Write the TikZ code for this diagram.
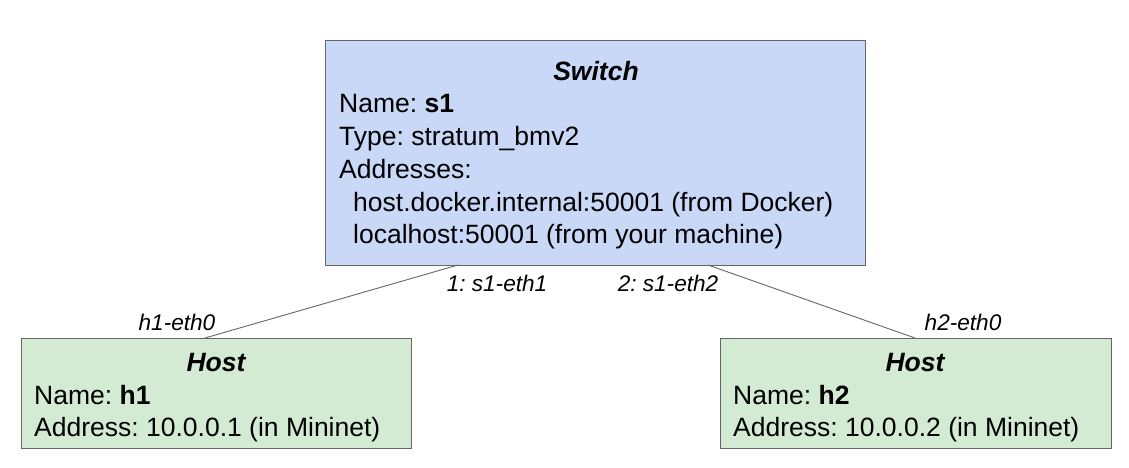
\documentclass[tikz,border=0pt]{standalone}
\usepackage{fontspec}
\setmainfont{Liberation Sans}
\frenchspacing
\definecolor{swfill}{HTML}{C9D8F7}
\definecolor{hostfill}{HTML}{D4EBD3}
\definecolor{edge}{HTML}{666666}
\tikzset{
  box/.style={draw=edge,line width=1pt,rectangle,inner sep=0pt},
  line/.style={anchor=base west,inner sep=0pt,font=\fontsize{26.5}{31}\selectfont},
  title/.style={anchor=base,inner sep=0pt,font=\fontsize{26.5}{31}\selectfont\bfseries\itshape},
  port/.style={anchor=base,inner sep=0pt,font=\fontsize{22.6}{26}\selectfont\itshape},
  link/.style={draw=edge,line width=0.9pt}
}
\begin{document}
\begin{tikzpicture}[x=1pt,y=-1pt]
  \useasboundingbox (0,0) rectangle (1129,468);
  % boxes
  \node[box,fill=swfill,minimum width=540pt,minimum height=225pt,anchor=north west] (sw) at (325,40) {};
  \node[box,fill=hostfill,minimum width=390pt,minimum height=110pt,anchor=north west] (h1) at (21,338) {};
  \node[box,fill=hostfill,minimum width=391pt,minimum height=110pt,anchor=north west] (h2) at (720,338) {};
  % switch text
  \node[title] (swtitle) at (596,81) {Switch};
  \node[line] (swname) at (339,113) {Name: \textbf{s1}};
  \node[line] (swtype) at (339,146) {Type: stratum\_bmv2};
  \node[line] (swaddr) at (339,178) {Addresses:};
  \node[line] (swdock) at (353,211) {host.docker.internal:50001 (from Docker)};
  \node[line] (swlocal) at (353,243) {localhost:50001 (from your machine)};
  % host text
  \node[title] (h1title) at (216,371) {Host};
  \node[line] (h1name) at (34,404) {Name: \textbf{h1}};
  \node[line] (h1addr) at (34,436) {Address: 10.0.0.1 (in Mininet)};
  \node[title] (h2title) at (915,371) {Host};
  \node[line] (h2name) at (733,404) {Name: \textbf{h2}};
  \node[line] (h2addr) at (733,436) {Address: 10.0.0.2 (in Mininet)};
  % links
  \coordinate (sw1) at (458,265);
  \coordinate (sw2) at (708,265);
  \coordinate (h1top) at (205,338);
  \coordinate (h2top) at (915,338);
  \draw[link] (sw1) -- (h1top);
  \draw[link] (sw2) -- (h2top);
  \node[port] (p1) at (497,291) {1: s1-eth1};
  \node[port] (p2) at (668,291) {2: s1-eth2};
  \node[port] (p3) at (177,330) {h1-eth0};
  \node[port] (p4) at (963,330) {h2-eth0};
\end{tikzpicture}
\end{document}
